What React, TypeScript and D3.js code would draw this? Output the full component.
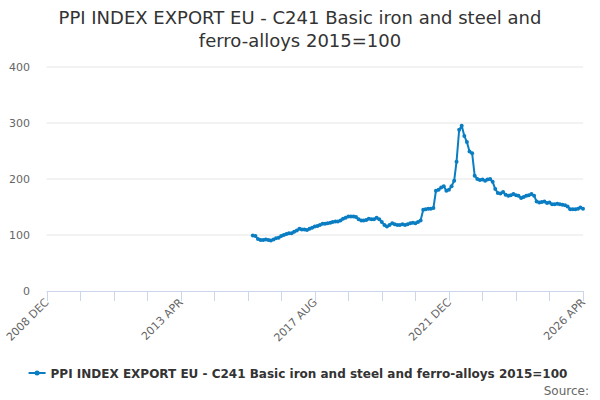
import React, { useRef, useEffect } from "react";
import * as d3 from "d3";

const TITLE_LINES = [
  "PPI INDEX EXPORT EU - C241 Basic iron and steel and",
  "ferro-alloys 2015=100",
];
const SERIES_NAME =
  "PPI INDEX EXPORT EU - C241 Basic iron and steel and ferro-alloys 2015=100";

// monthly values, first one is 2015 AUG
const FIRST_MONTH = "2015-08";
const values2015 = [99, 98, 93, 91, 91];
const values2016 = [92, 91, 90, 92, 94, 95, 98, 100, 102, 103, 103, 106];
const values2017 = [108, 111, 110, 110, 109, 111, 113, 115, 116, 118, 120, 120];
const values2018 = [121, 122, 123, 124, 124, 126, 129, 131, 133, 133, 133, 132];
const values2019 = [128, 126, 126, 127, 129, 128, 128, 131, 128, 123, 118, 115];
const values2020 = [118, 121, 119, 118, 118, 119, 118, 119, 121, 122, 121, 123];
const values2021 = [126, 145, 146, 147, 147, 148, 179, 181, 185, 187, 179, 181];
const values2022 = [187, 197, 231, 288, 295, 277, 266, 249, 246, 206, 200, 198];
const values2023 = [199, 197, 199, 200, 195, 182, 175, 174, 177, 172, 170, 171];
const values2024 = [173, 171, 170, 166, 168, 170, 171, 173, 170, 160, 158, 159];
const values2025 = [160, 157, 158, 155, 155, 156, 155, 154, 153, 151, 146, 146];
const values2026 = [146, 147, 149, 147];

const yTicks = [0, 100, 200, 300, 400];
const AXIS_START = "2008-12";
const AXIS_END = "2026-04";
const TICK_STEP_MONTHS = 13;
const xLabels = ["2008 DEC", "2013 APR", "2017 AUG", "2021 DEC", "2026 APR"];

const FONT = "'DejaVu Sans', sans-serif";
const BLUE = "#0b7dc2";

const parseMonth = d3.timeParse("%Y-%m");

export default function App() {
  const ref = useRef<SVGSVGElement | null>(null);

  useEffect(() => {
    const width = 600;
    const height = 400;
    const plot = { left: 46.5, right: 583, top: 67, bottom: 291 };

    const svg = d3.select(ref.current);
    svg.selectAll("*").remove();

    const values = [
      ...values2015, ...values2016, ...values2017, ...values2018,
      ...values2019, ...values2020, ...values2021, ...values2022,
      ...values2023, ...values2024, ...values2025, ...values2026,
    ];
    const first = parseMonth(FIRST_MONTH) as Date;
    const data = values.map((v, i) => ({ date: d3.timeMonth.offset(first, i), value: v }));

    const start = parseMonth(AXIS_START) as Date;
    const end = parseMonth(AXIS_END) as Date;
    const x = d3.scaleTime().domain([start, end]).range([plot.left, plot.right]);
    const y = d3.scaleLinear().domain([0, 400]).range([plot.bottom, plot.top]);

    svg.attr("width", width).attr("height", height).style("font-family", FONT);
    svg.append("rect").attr("width", width).attr("height", height).attr("fill", "#fff");

    // Title
    svg
      .append("g")
      .selectAll("text")
      .data(TITLE_LINES)
      .enter()
      .append("text")
      .attr("x", width / 2)
      .attr("y", (d, i) => 24 + i * 23)
      .attr("text-anchor", "middle")
      .attr("fill", "#333")
      .style("font-size", "18px")
      .text((d) => d);

    // Grid lines + y labels
    const gy = svg.append("g");
    yTicks.forEach((t) => {
      if (t > 0) {
        gy.append("line")
          .attr("x1", plot.left)
          .attr("x2", plot.right)
          .attr("y1", y(t))
          .attr("y2", y(t))
          .attr("stroke", "#e6e6e6")
          .attr("stroke-width", 1);
      }
      gy.append("text")
        .attr("x", 30)
        .attr("y", y(t) + 4)
        .attr("text-anchor", "end")
        .attr("fill", "#666")
        .style("font-size", "11px")
        .text(String(t));
    });

    // X axis
    const nTicks = Math.round(d3.timeMonth.count(start, end) / TICK_STEP_MONTHS);
    const ticks = d3.range(nTicks + 1).map((i) => d3.timeMonth.offset(start, i * TICK_STEP_MONTHS));
    const gx = svg.append("g");
    gx.append("line")
      .attr("x1", plot.left)
      .attr("x2", plot.right)
      .attr("y1", plot.bottom + 0.5)
      .attr("y2", plot.bottom + 0.5)
      .attr("stroke", "#ccd6eb");
    ticks.forEach((t, i) => {
      const tx = Math.round(x(t)) + 0.5;
      gx.append("line")
        .attr("x1", tx)
        .attr("x2", tx)
        .attr("y1", plot.bottom)
        .attr("y2", plot.bottom + 10)
        .attr("stroke", "#ccd6eb");
      if (i % 4 === 0) {
        gx.append("text")
          .attr("transform", `translate(${x(t) + 3},${plot.bottom + 12}) rotate(-45)`)
          .attr("text-anchor", "end")
          .attr("fill", "#666")
          .style("font-size", "11px")
          .text(xLabels[i / 4]);
      }
    });

    // Series
    const line = d3
      .line<{ date: Date; value: number }>()
      .x((d) => x(d.date))
      .y((d) => y(d.value));
    svg
      .append("path")
      .datum(data)
      .attr("fill", "none")
      .attr("stroke", BLUE)
      .attr("stroke-width", 2)
      .attr("stroke-linejoin", "round")
      .attr("d", line);
    svg
      .append("g")
      .selectAll("circle")
      .data(data)
      .enter()
      .append("circle")
      .attr("cx", (d) => x(d.date))
      .attr("cy", (d) => y(d.value))
      .attr("r", 2)
      .attr("fill", BLUE);

    // Legend
    const legend = svg.append("g");
    legend
      .append("line")
      .attr("x1", 0)
      .attr("x2", 17)
      .attr("y1", 0)
      .attr("y2", 0)
      .attr("stroke", BLUE)
      .attr("stroke-width", 2);
    legend.append("circle").attr("cx", 8.5).attr("cy", 0).attr("r", 2.5).attr("fill", BLUE);
    const lt = legend
      .append("text")
      .attr("x", 22)
      .attr("y", 4.5)
      .attr("fill", "#333")
      .style("font-size", "12px")
      .style("font-weight", "bold")
      .text(SERIES_NAME);
    const tw = (lt.node() as SVGTextElement).getComputedTextLength();
    legend.attr("transform", `translate(${(width - (22 + tw)) / 2 - 2},${373})`);

    svg
      .append("text")
      .attr("x", 589)
      .attr("y", 395)
      .attr("text-anchor", "end")
      .attr("fill", "#666")
      .style("font-size", "12px")
      .text("Source:");
  }, []);

  return (
    <div style={{ position: "fixed", left: 0, top: 0 }}>
      <svg ref={ref} style={{ display: "block" }} />
    </div>
  );
}
